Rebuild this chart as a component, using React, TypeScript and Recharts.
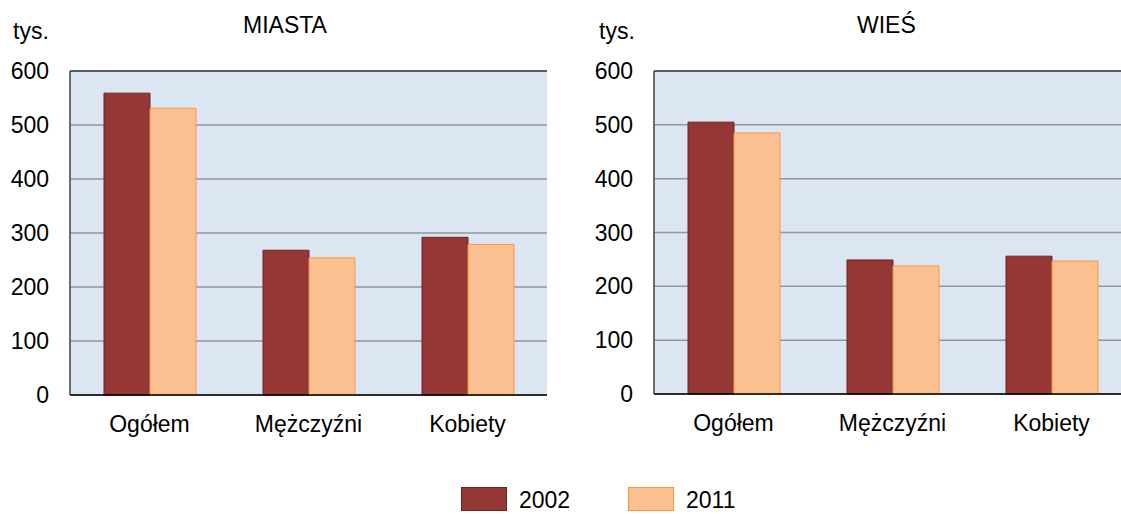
import { Bar, BarChart, CartesianGrid, ReferenceLine, XAxis, YAxis } from "recharts";

const categories = ["Ogółem", "Mężczyźni", "Kobiety"];
const cityValues2002 = [559, 268, 292];
const cityValues2011 = [531, 254, 279];
const villageValues2002 = [505, 249, 256];
const villageValues2011 = [485, 238, 247];
const yTicks = [0, 100, 200, 300, 400, 500, 600];
const seriesNames = ["2002", "2011"];

const FONT = "'Liberation Sans', Arial, sans-serif";
const FS = 23;
const COLOR_2002 = "#953735";
const STROKE_2002 = "#6b2624";
const COLOR_2011 = "#FAC090";
const STROKE_2011 = "#F79646";

const buildRows = (a: number[], b: number[]) =>
  categories.map((name, i) => ({ name, v2002: a[i], v2011: b[i] }));

function Panel({ data, left, top, height }: { data: any[]; left: number; top: number; height: number }) {
  return (
    <div style={{ position: "absolute", left, top }}>
      <BarChart
        width={560}
        height={height}
        data={data}
        margin={{ top: 71 - top, right: 13, left: 0, bottom: 0 }}
        barCategoryGap={34}
        barGap={0}
      >
        <CartesianGrid vertical={false} fill="#DCE6F2" stroke="#969696" strokeWidth={1.5} />
        <XAxis
          dataKey="name"
          height={65}
          tickLine={false}
          tickSize={0}
          tickMargin={21}
          axisLine={{ stroke: "#000", strokeWidth: 1.5 }}
          tick={{ fill: "#000", fontSize: FS, fontFamily: FONT }}
        />
        <YAxis
          width={70}
          domain={[0, 600]}
          ticks={yTicks}
          tickLine={false}
          tickSize={0}
          tickMargin={21}
          axisLine={{ stroke: "#404040", strokeWidth: 1.5 }}
          tick={{ fill: "#000", fontSize: FS, fontFamily: FONT }}
        />
        <YAxis
          yAxisId="r"
          orientation="right"
          width={0}
          domain={[0, 600]}
          tick={false}
          tickLine={false}
          axisLine={{ stroke: "#404040", strokeWidth: 1.5 }}
        />
        <ReferenceLine y={600} stroke="#404040" strokeWidth={1.5} />
        <Bar dataKey="v2002" name="2002" fill={COLOR_2002} stroke={STROKE_2002} strokeWidth={1} isAnimationActive={false} />
        <Bar dataKey="v2011" name="2011" fill={COLOR_2011} stroke={STROKE_2011} strokeWidth={1} isAnimationActive={false} />
      </BarChart>
    </div>
  );
}

const textStyle = {
  position: "absolute" as const,
  fontFamily: FONT,
  fontSize: FS,
  color: "#000",
  lineHeight: `${FS}px`,
  whiteSpace: "nowrap" as const,
};

export default function App() {
  const cityData = buildRows(cityValues2002, cityValues2011);
  const villageData = buildRows(villageValues2002, villageValues2011);

  return (
    <div
      style={{
        position: "absolute",
        left: 0,
        top: 0,
        width: 1121,
        height: 514,
        overflow: "hidden",
        background: "#fff",
      }}
    >
      <Panel data={cityData} left={0} top={0} height={460} />
      <Panel data={villageData} left={584} top={1} height={458} />

      <div style={{ ...textStyle, left: 13, top: 20 }}>tys.</div>
      <div style={{ ...textStyle, left: 243, top: 14 }}>MIASTA</div>
      <div style={{ ...textStyle, left: 599, top: 20 }}>tys.</div>
      <div style={{ ...textStyle, left: 857, top: 14 }}>WIEŚ</div>

      {seriesNames.map((s, i) => {
        const x = i === 0 ? 461 : 628;
        return (
          <div key={s}>
            <div
              style={{
                position: "absolute",
                left: x,
                top: 487,
                width: 44,
                height: 22,
                background: i === 0 ? COLOR_2002 : COLOR_2011,
                border: `1px solid ${i === 0 ? STROKE_2002 : STROKE_2011}`,
              }}
            />
            <div style={{ ...textStyle, left: x + 58, top: 489 }}>{s}</div>
          </div>
        );
      })}
    </div>
  );
}
